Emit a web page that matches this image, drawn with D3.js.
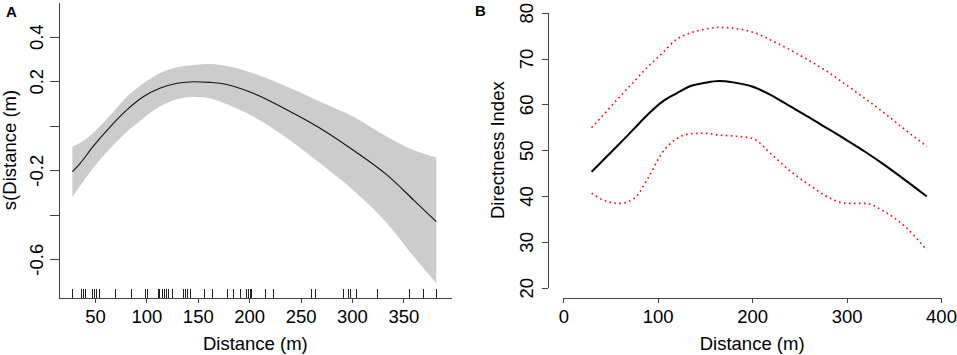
<!DOCTYPE html>
<html>
<head>
<meta charset="utf-8">
<script src="https://cdn.jsdelivr.net/npm/d3@7"></script>
<style>
  body { margin: 0; background: #fff; }
  svg { display: block; font-family: "Liberation Sans", Arial, sans-serif; }
  .axis path, .axis line { stroke: #444; shape-rendering: crispEdges; }
  .axis text { fill: #000; font-size: 18.5px; font-family: "Liberation Sans", Arial, sans-serif; }
  .title { font-size: 18.5px; }
  .panel { font-size: 15px; font-weight: bold; }
</style>
</head>
<body>
<svg width="957" height="355"></svg>
<script>
// Panel A: GAM smooth of distance
var distA  = [28, 35, 48, 65, 81, 97, 113, 130, 146, 162, 172, 204, 237, 269, 301, 334, 360, 382];
var fitA   = [-0.206, -0.172, -0.094, -0.004, 0.071, 0.130, 0.168, 0.191, 0.198, 0.195, 0.191, 0.146, 0.071, -0.011, -0.109, -0.221, -0.334, -0.431];
var upperA = [-0.094, -0.079, -0.034, 0.048, 0.130, 0.190, 0.236, 0.263, 0.273, 0.277, 0.273, 0.236, 0.175, 0.108, 0.041, -0.049, -0.109, -0.142];
var lowerA = [-0.319, -0.274, -0.191, -0.101, -0.027, 0.033, 0.086, 0.119, 0.130, 0.123, 0.108, 0.041, -0.056, -0.169, -0.289, -0.438, -0.588, -0.708];
var rugA = [28.3, 37.0, 38.6, 40.6, 47.7, 49.4, 51.6, 54.2, 70.4, 86.0, 99.3, 100.9, 111.6, 113.2, 115.2, 117.5,
            119.7, 122.0, 125.6, 136.0, 138.2, 140.2, 142.8, 156.4, 164.2, 179.1, 184.6, 191.1, 197.6, 199.2,
            200.8, 202.5, 215.4, 223.5, 260.2, 264.1, 291.6, 296.5, 298.1, 304.6, 325.1, 355.9, 369.8, 381.8];
var xTicksA = [50, 100, 150, 200, 250, 300, 350];
var yTicksA = [-0.6, -0.4, -0.2, 0, 0.2, 0.4];
var yLabelsA = ["-0.6", "", "-0.2", "", "0.2", "0.4"];

// Panel B: directness index with confidence limits
var distB  = [30, 45, 60, 75, 90, 105, 120, 135, 150, 165, 180, 200, 220, 240, 260, 280, 300, 320, 340, 360, 385];
var fitB   = [45.3, 48.4, 51.5, 54.7, 57.9, 60.6, 62.4, 64.0, 64.7, 65.1, 64.8, 63.9, 62.0, 59.6, 57.2, 54.7, 52.2, 49.6, 46.8, 43.8, 39.9];
var upperB = [54.9, 58.3, 61.7, 65.0, 68.3, 71.2, 74.2, 75.6, 76.4, 76.8, 76.6, 75.8, 74.0, 71.9, 69.6, 67.1, 64.2, 61.2, 58.1, 54.8, 50.8];
var lowerB = [40.6, 38.9, 38.4, 39.5, 44.0, 49.5, 52.5, 53.6, 53.7, 53.3, 53.1, 52.6, 49.2, 45.5, 42.5, 39.8, 38.4, 38.4, 36.6, 33.7, 28.2];
var xTicksB = [0, 100, 200, 300, 400];
var yTicksB = [20, 30, 40, 50, 60, 70, 80];

var svg = d3.select("svg");

// rotate y tick labels the R way (las = 0)
function rotateLabels(axisG, dist) {
  axisG.selectAll(".tick text")
      .attr("transform", "rotate(-90)")
      .attr("x", 0)
      .attr("y", -dist)
      .attr("dy", null)
      .attr("text-anchor", "middle");
}

// ---------- panel A ----------
var xA = d3.scaleLinear().domain([15, 397]).range([59, 451.7]);
var yA = d3.scaleLinear().domain([-0.774, 0.556]).range([298, 2]);

var bandA = d3.area()
    .x(function(d) { return xA(d.x); })
    .y0(function(d) { return yA(d.lo); })
    .y1(function(d) { return yA(d.hi); })
    .curve(d3.curveMonotoneX);
var lineA = d3.line()
    .x(function(d) { return xA(d.x); })
    .y(function(d) { return yA(d.y); })
    .curve(d3.curveMonotoneX);

var ptsA = distA.map(function(d, i) {
  return { x: d, y: fitA[i], lo: lowerA[i], hi: upperA[i] };
});

var gA = svg.append("g");
gA.append("path")
    .datum(ptsA)
    .attr("d", bandA)
    .style("fill", "#cccccc");
gA.append("path")
    .datum(ptsA)
    .attr("d", lineA)
    .style("fill", "none")
    .style("stroke", "#111")
    .style("stroke-width", 1.1);

gA.append("g")
    .attr("class", "rug")
  .selectAll("line")
    .data(rugA)
    .enter().append("line")
      .attr("x1", function(d) { return xA(d); })
      .attr("x2", function(d) { return xA(d); })
      .attr("y1", yA.range()[0])
      .attr("y2", yA.range()[0] - 9)
      .style("stroke", "#222")
      .style("stroke-width", 1)
      .style("shape-rendering", "crispEdges");

gA.append("g")
    .attr("class", "axis")
    .attr("transform", "translate(0," + yA.range()[0] + ")")
    .call(d3.axisBottom(xA).tickValues(xTicksA).tickSize(5).tickSizeOuter(0).tickPadding(7));

var yAxisA = gA.append("g")
    .attr("class", "axis")
    .attr("transform", "translate(" + xA.range()[0] + ",0)")
    .call(d3.axisLeft(yA).tickValues(yTicksA).tickSize(9).tickSizeOuter(0)
      .tickFormat(function(d, i) { return yLabelsA[i]; }));
rotateLabels(yAxisA, 16);

gA.append("text")
    .attr("class", "title")
    .attr("x", (xA.range()[0] + xA.range()[1]) / 2)
    .attr("y", 350)
    .attr("text-anchor", "middle")
    .text("Distance (m)");
gA.append("text")
    .attr("class", "title")
    .attr("transform", "translate(15.5," + (yA.range()[0] + yA.range()[1]) / 2 + ") rotate(-90)")
    .attr("text-anchor", "middle")
    .text("s(Distance (m)");
gA.append("text")
    .attr("class", "panel")
    .attr("x", 6)
    .attr("y", 17)
    .text("A");

// ---------- panel B ----------
var xB = d3.scaleLinear().domain([0, 400]).range([563.3, 941]);
var yB = d3.scaleLinear().domain([20, 80]).range([287.7, 12.7]);

var lineB = function(vals) {
  return d3.line()
      .x(function(d, i) { return xB(distB[i]); })
      .y(function(d) { return yB(d); })
      .curve(d3.curveMonotoneX)(vals);
};

var gB = svg.append("g");
gB.append("path")
    .attr("d", lineB(upperB))
    .style("fill", "none")
    .style("stroke", "#ff0000")
    .style("stroke-width", 1.6)
    .style("stroke-dasharray", "1.6,3.4");
gB.append("path")
    .attr("d", lineB(lowerB))
    .style("fill", "none")
    .style("stroke", "#ff0000")
    .style("stroke-width", 1.6)
    .style("stroke-dasharray", "1.6,3.4");
gB.append("path")
    .attr("d", lineB(fitB))
    .style("fill", "none")
    .style("stroke", "#000")
    .style("stroke-width", 2);

gB.append("g")
    .attr("class", "axis")
    .attr("transform", "translate(0,298.3)")
    .call(d3.axisBottom(xB).tickValues(xTicksB).tickSize(5).tickSizeOuter(0).tickPadding(7));

var yAxisB = gB.append("g")
    .attr("class", "axis")
    .attr("transform", "translate(548.3,0)")
    .call(d3.axisLeft(yB).tickValues(yTicksB).tickSize(6).tickSizeOuter(0));
rotateLabels(yAxisB, 15.3);

gB.append("text")
    .attr("class", "title")
    .attr("x", (xB.range()[0] + xB.range()[1]) / 2)
    .attr("y", 350)
    .attr("text-anchor", "middle")
    .text("Distance (m)");
gB.append("text")
    .attr("class", "title")
    .attr("transform", "translate(504," + (yB.range()[0] + yB.range()[1]) / 2 + ") rotate(-90)")
    .attr("text-anchor", "middle")
    .text("Directness Index");
gB.append("text")
    .attr("class", "panel")
    .attr("x", 475)
    .attr("y", 16)
    .text("B");
</script>
</body>
</html>
